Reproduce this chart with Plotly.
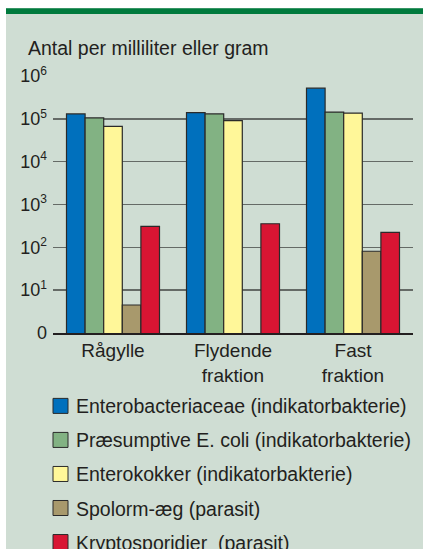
import plotly.graph_objects as go

categories = ["Rågylle", "Flydende<br>fraktion", "Fast<br>fraktion"]
series_names = [
    "Enterobacteriaceae (indikatorbakterie)",
    "Præsumptive E. coli (indikatorbakterie)",
    "Enterokokker (indikatorbakterie)",
    "Spolorm-æg (parasit)",
    "Kryptosporidier  (parasit)",
]
enterobacteriaceae = [130000, 140000, 520000]
ecoli = [105000, 130000, 144000]
enterokokker = [67000, 91000, 136000]
spolorm = [4.5, None, 81]
kryptosporidier = [310, 355, 223]
series_values = [enterobacteriaceae, ecoli, enterokokker, spolorm, kryptosporidier]
colors = ["#0070bd", "#82b283", "#fff799", "#a8996c", "#d81533"]

tick_vals = [1, 10, 100, 1000, 10000, 100000, 1000000]
tick_text = ["0"] + [
    f"10<sup><span style='font-size:12px'>{e}</span></sup>" for e in ["1", "2", "3", "4", "5", "6"]
]

W, H = 423, 549
L, R, T, B = 53, 413, 76, 332.7

def px(x):
    return (x - L) / (R - L)

def py(y):
    return (B - y) / (B - T)

fig = go.Figure()
for i, (name, vals, c) in enumerate(zip(series_names, series_values, colors)):
    fig.add_trace(go.Bar(
        x=categories, y=vals, name=name, showlegend=False,
        marker=dict(color=c, line=dict(color="#2a2a2a", width=1.2)),
    ))

shapes = [
    dict(type="rect", xref="paper", yref="paper",
         x0=px(-5), x1=px(W + 5), y0=py(-5), y1=py(8.3),
         fillcolor="white", line=dict(width=0), layer="below"),
    dict(type="rect", xref="paper", yref="paper",
         x0=px(-5), x1=px(6), y0=py(-5), y1=py(H + 5),
         fillcolor="white", line=dict(width=0), layer="below"),
    dict(type="rect", xref="paper", yref="paper",
         x0=px(6), x1=px(W + 5), y0=py(8.3), y1=py(14),
         fillcolor="#007a3d", line=dict(width=0), layer="below"),
]
annotations = [
    dict(text="Antal per milliliter eller gram", xref="paper", yref="paper",
         x=px(26), y=py(48), xanchor="left", yanchor="middle",
         showarrow=False, font=dict(size=19.5)),
]

# legend drawn as swatches + labels
row_y0, row_dy = 405.5, 34
for i, (name, c) in enumerate(zip(series_names, colors)):
    yc = row_y0 + i * row_dy
    shapes.append(dict(type="rect", xref="paper", yref="paper",
                       x0=px(53), x1=px(68), y0=py(yc - 7.5), y1=py(yc + 7.5),
                       fillcolor=c, line=dict(color="#2a2a2a", width=1)))
    annotations.append(dict(text=name, xref="paper", yref="paper",
                            x=px(74), y=py(yc + 0.5), xanchor="left", yanchor="middle",
                            showarrow=False, font=dict(size=19.5)))

bg = "#cfddd3"
fig.update_layout(
    width=W, height=H,
    margin=dict(l=L, r=W - R, t=T, b=H - B, autoexpand=False),
    paper_bgcolor=bg, plot_bgcolor=bg,
    barmode="group", bargap=0.225, bargroupgap=0,
    font=dict(family="Liberation Sans, Arial, sans-serif", size=19, color="#231f20"),
    showlegend=False,
    xaxis=dict(
        showgrid=False, showline=True, linecolor="#231f20", linewidth=2,
        ticks="", tickfont=dict(size=19), range=[-0.5, 2.5], fixedrange=True,
        ticklabelstandoff=-1,
    ),
    yaxis=dict(
        type="log", range=[0, 6], tickvals=tick_vals, ticktext=tick_text,
        showgrid=True, gridcolor="#656a66", gridwidth=1.6,
        zeroline=False, showline=False, ticks="", tickfont=dict(size=18),
        ticklabelstandoff=5, fixedrange=True,
    ),
    shapes=shapes,
    annotations=annotations,
)

fig.write_html(
    "out.html",
    config={"displayModeBar": False, "staticPlot": True},
    post_script=(
        "document.documentElement.style.overflow='hidden';"
        "document.body.style.margin='0px';document.body.style.overflow='hidden';"
    ),
)
